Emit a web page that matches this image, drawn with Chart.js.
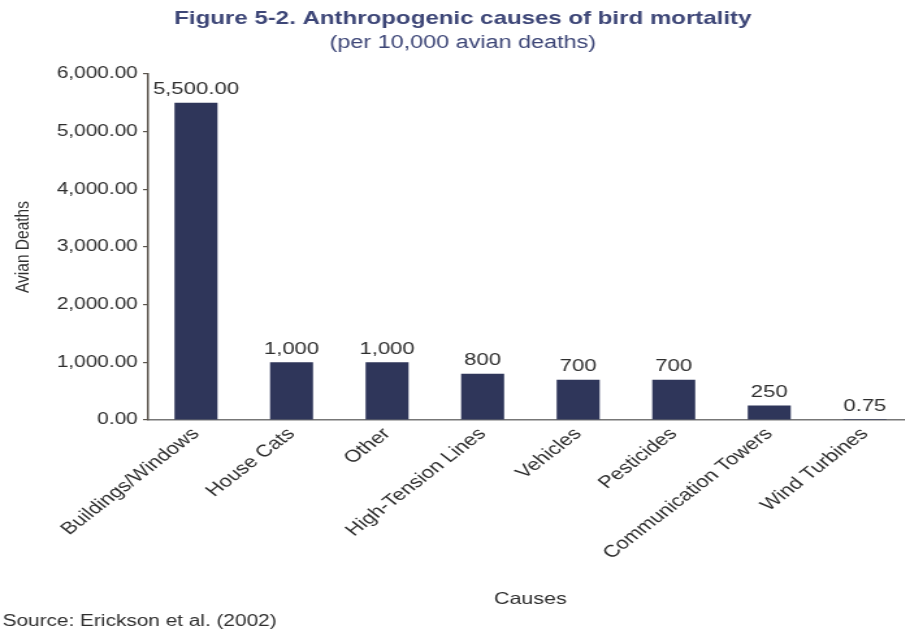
<!DOCTYPE html>
<html>
<head>
<meta charset="utf-8">
<title>Anthropogenic causes of bird mortality</title>
<script src="https://cdn.jsdelivr.net/npm/chart.js@4.4.0/dist/chart.umd.min.js"></script>
<style>
  html, body { margin: 0; padding: 0; background: #fff; overflow: hidden; }
  /* the figure is drawn narrow and widened 1.3x, like the printed version */
  #wrap { width: 702px; height: 634px; transform: scaleX(1.3); transform-origin: 0 0; }
</style>
</head>
<body>
<div id="wrap"><canvas id="chart-canvas"></canvas></div>
<script>
const causes = ['Buildings/Windows', 'House Cats', 'Other', 'High-Tension Lines',
                'Vehicles', 'Pesticides', 'Communication Towers', 'Wind Turbines'];
const deaths = [5500, 1000, 1000, 800, 700, 700, 250, 0.75];
// decimals shown in the value label above each bar
const labelDecimals = [2, 0, 0, 0, 0, 0, 0, 2];

const titleText = 'Figure 5-2. Anthropogenic causes of bird mortality';
const subtitleText = '(per 10,000 avian deaths)';
const sourceText = 'Source: Erickson et al. (2002)';

const FONT = '"Liberation Sans", Arial, sans-serif';
const BAR_COLOR = '#2f365a';
const TEXT_COLOR = '#2e2e2e';
const TITLE_COLOR = '#3d4677';
const AXIS_COLOR = '#5b554d';

function fmt(v, d) {
  return v.toLocaleString('en-US', { minimumFractionDigits: d, maximumFractionDigits: d });
}

// value above every bar
const valueLabels = {
  id: 'valueLabels',
  afterDatasetsDraw(chart) {
    const ctx = chart.ctx;
    const meta = chart.getDatasetMeta(0);
    ctx.save();
    ctx.font = `17px ${FONT}`;
    ctx.fillStyle = TEXT_COLOR;
    ctx.textAlign = 'center';
    ctx.textBaseline = 'bottom';
    meta.data.forEach((bar, i) => {
      ctx.fillText(fmt(deaths[i], labelDecimals[i]), bar.x, bar.y - 5);
    });
    ctx.restore();
  }
};

// heading lines and source note
const figureText = {
  id: 'figureText',
  afterDraw(chart) {
    const ctx = chart.ctx;
    ctx.save();
    ctx.textBaseline = 'middle';
    ctx.textAlign = 'center';
    ctx.fillStyle = TITLE_COLOR;
    ctx.font = `bold 18.5px ${FONT}`;
    ctx.fillText(titleText, 356, 19);
    ctx.font = `18px ${FONT}`;
    ctx.fillText(subtitleText, 356, 43);
    ctx.textAlign = 'left';
    ctx.fillStyle = TEXT_COLOR;
    ctx.font = `16px ${FONT}`;
    ctx.fillText(sourceText, 2, 622);
    ctx.restore();
  }
};

const ctx = document.getElementById('chart-canvas').getContext('2d');
new Chart(ctx, {
  type: 'bar',
  data: {
    labels: causes,
    datasets: [{
      data: deaths,
      backgroundColor: BAR_COLOR,
      borderWidth: 0,
      barPercentage: 0.45,
      categoryPercentage: 1
    }]
  },
  options: {
    responsive: true,
    maintainAspectRatio: false,
    animation: false,
    layout: { padding: { top: 74, left: 0, right: 0, bottom: 0 } },
    plugins: {
      legend: { display: false },
      tooltip: { enabled: false }
    },
    scales: {
      x: {
        afterFit(scale) { scale.height = 214; },
        ticks: {
          autoSkip: false,
          maxRotation: 45,
          minRotation: 45,
          padding: 4,
          color: TEXT_COLOR,
          font: { family: FONT, size: 17 }
        },
        grid: { drawOnChartArea: false, drawTicks: false },
        border: { color: '#777777', width: 1.5 },
        title: {
          display: true,
          text: 'Causes',
          color: TEXT_COLOR,
          font: { family: FONT, size: 16.5 },
          padding: { top: 0, bottom: 25 }
        }
      },
      y: {
        min: 0,
        max: 6000,
        afterFit(scale) { scale.width = 114; },
        ticks: {
          stepSize: 1000,
          padding: 4,
          color: TEXT_COLOR,
          font: { family: FONT, size: 16 },
          callback: v => fmt(v, 2)
        },
        grid: { drawOnChartArea: false, drawTicks: true, tickLength: 4, color: AXIS_COLOR, lineWidth: 1.2 },
        border: { color: AXIS_COLOR, width: 1.5 },
        title: {
          display: true,
          text: 'Avian Deaths',
          color: TEXT_COLOR,
          font: { family: FONT, size: 15.5 },
          padding: { top: 8, bottom: 0 }
        }
      }
    }
  },
  plugins: [valueLabels, figureText]
});
</script>
</body>
</html>
